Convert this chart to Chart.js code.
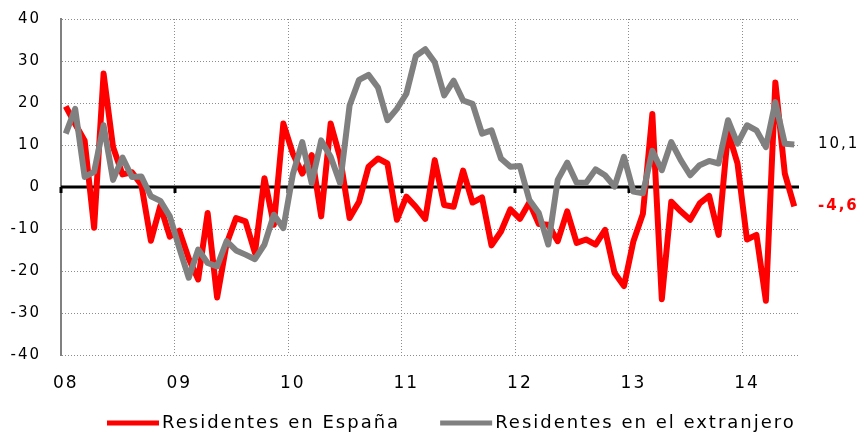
<!DOCTYPE html>
<html>
<head>
<meta charset="utf-8">
<script src="https://cdn.jsdelivr.net/npm/chart.js@4.4.0/dist/chart.umd.min.js"></script>
<style>
html, body { margin: 0; padding: 0; background: #fff; }
#wrap { width: 858px; height: 433px; overflow: hidden; }
</style>
</head>
<body>
<div id="wrap"><canvas id="chart" width="858" height="433"></canvas></div>
<script>
// x axis tick labels (one per year, at January)
var yearLabels = ['08', '09', '10', '11', '12', '13', '14'];
var monthNames = ['ene', 'feb', 'mar', 'abr', 'may', 'jun', 'jul', 'ago', 'sep', 'oct', 'nov', 'dic'];

// monthly series, ene-08 .. jun-14
var residentesEspana = [
	19.2, 15, 11, -9.7, 27, 9.5, 3, 3.5, 0.5, -12.8, -4.5, -11.8,
	-10.4, -17, -22, -6.2, -26.3, -13.5, -7.4, -8.2, -15.7, 2.1, -9, 15.1,
	8, 3.2, 7.6, -7, 15.1, 7, -7.4, -3.5, 4.8, 6.8, 5.6, -7.8,
	-2.3, -4.7, -7.6, 6.4, -4.3, -4.7, 3.9, -3.7, -2.5, -13.9, -10.6, -5.3,
	-7.6, -3.7, -8.8, -9, -12.9, -5.8, -13.3, -12.5, -13.7, -10.2, -20.4, -23.6,
	-12.9, -6.4, 17.4, -26.7, -3.5, -5.8, -7.8, -3.9, -2.1, -11.4, 13.1, 5.6,
	-12.5, -11.4, -27.1, 24.9, 3.2, -4.6
];
var residentesExtranjero = [
	12.7, 18.6, 2.4, 3.6, 14.7, 1.7, 7, 2.4, 2.5, -2.2, -3.3, -7,
	-14.5, -21.6, -14.9, -18.1, -18.9, -12.9, -15.1, -16.1, -17.2, -13.7, -6.6, -9.8,
	3, 10.7, 0.9, 11.1, 7.2, 0.9, 19.4, 25.5, 26.7, 23.7, 15.9, 18.6,
	22.2, 31.2, 32.8, 29.7, 21.8, 25.3, 20.6, 19.8, 12.7, 13.5, 6.8, 4.8,
	5, -3.1, -6.2, -13.7, 1.7, 5.8, 1, 1, 4.2, 2.8, 0.1, 7.2,
	-1.1, -1.5, 8.6, 4, 10.7, 6.4, 2.8, 5.2, 6.2, 5.6, 15.9, 10.3,
	14.7, 13.5, 9.5, 20.2, 10.3, 10.1
];

// last values written at the right of the plot
var lastLabelEspana = '-4,6';
var lastLabelExtranjero = '10,1';

// categories
var categories = [];
for (var y = 0; y < yearLabels.length; y++) {
	for (var m = 0; m < 12; m++) {
		if (categories.length < residentesEspana.length) {
			categories.push(monthNames[m] + '-' + yearLabels[y]);
		}
	}
}

// the original text is drawn rather wide
var SPACING = 2;
var wideText = {
	id: 'wideText',
	beforeUpdate: function(chart) { chart.ctx.letterSpacing = SPACING + 'px'; },
	beforeDraw: function(chart) { chart.ctx.letterSpacing = SPACING + 'px'; }
};

// black zero line with small year marks
var zeroLine = {
	id: 'zeroLine',
	beforeDatasetsDraw: function(chart) {
		var ctx = chart.ctx;
		var xs = chart.scales.x;
		var y0 = chart.scales.y.getPixelForValue(0);
		var half = (xs.getPixelForValue(1) - xs.getPixelForValue(0)) / 2;
		ctx.save();
		ctx.strokeStyle = '#000';
		ctx.lineWidth = 3;
		ctx.beginPath();
		ctx.moveTo(chart.chartArea.left, y0);
		ctx.lineTo(chart.chartArea.right, y0);
		ctx.stroke();
		for (var i = 0; i < categories.length; i += 12) {
			var xp = Math.round(xs.getPixelForValue(i) - half);
			ctx.beginPath();
			ctx.moveTo(xp, y0);
			ctx.lineTo(xp, y0 + 6);
			ctx.stroke();
		}
		ctx.restore();
	}
};

// values at end of lines + legend row at the bottom
var endLabels = {
	id: 'endLabels',
	afterDraw: function(chart) {
		var ctx = chart.ctx;
		var ys = chart.scales.y;
		var x = chart.chartArea.right + 19;
		ctx.save();
		ctx.textBaseline = 'middle';
		ctx.textAlign = 'left';
		ctx.font = '15px "DejaVu Sans"';
		ctx.fillStyle = '#000';
		ctx.fillText(lastLabelExtranjero, x, ys.getPixelForValue(residentesExtranjero[residentesExtranjero.length - 1]));
		ctx.font = 'bold 15px "DejaVu Sans"';
		ctx.fillStyle = '#ff0000';
		ctx.fillText(lastLabelEspana, x, ys.getPixelForValue(residentesEspana[residentesEspana.length - 1]));

		// legend
		var lx = 107, ly = 423;
		ctx.font = '18px "DejaVu Sans"';
		chart.data.datasets.forEach(function(ds) {
			ctx.fillStyle = ds.borderColor;
			ctx.fillRect(lx, ly - 2.5, 52, 5);
			lx += 55;
			ctx.letterSpacing = '0px';
			var w = ctx.measureText(ds.label).width + SPACING * ds.label.length;
			ctx.letterSpacing = SPACING + 'px';
			ctx.fillStyle = '#000';
			ctx.fillText(ds.label, lx, ly);
			lx += w + 40;
		});
		ctx.restore();
	}
};

var ctx = document.getElementById('chart').getContext('2d');
var chart = new Chart(ctx, {
	type: 'line',
	data: {
		labels: categories,
		datasets: [{
			label: 'Residentes en España',
			data: residentesEspana,
			borderColor: '#ff0000',
			borderWidth: 6,
			pointRadius: 0,
			tension: 0,
			borderJoinStyle: 'round',
			order: 1
		}, {
			label: 'Residentes en el extranjero',
			data: residentesExtranjero,
			borderColor: '#808080',
			borderWidth: 6,
			pointRadius: 0,
			tension: 0,
			borderJoinStyle: 'round',
			order: 0
		}]
	},
	options: {
		responsive: false,
		animation: false,
		devicePixelRatio: 1,
		layout: { padding: { top: 19, right: 48, left: 0, bottom: 29 } },
		scales: {
			x: {
				offset: true,
				grid: {
					offset: true,
					drawTicks: false,
					color: function(c) { return c.index % 12 === 0 ? '#8c8c8c' : 'rgba(0,0,0,0)'; },
					lineWidth: 1
				},
				border: { display: false, dash: [1, 2] },
				afterFit: function(s) { s.height = 49; },
				ticks: {
					autoSkip: false,
					maxRotation: 0,
					padding: 18,
					color: '#000',
					font: { family: 'DejaVu Sans', size: 17 },
					callback: function(v, i) { return i % 12 === 0 ? yearLabels[i / 12] : ''; }
				}
			},
			y: {
				min: -40,
				max: 40,
				grid: { drawTicks: false, color: '#8c8c8c', lineWidth: 1 },
				border: { display: true, color: '#808080', width: 2, dash: [1, 2] },
				afterFit: function(s) {
					s.width = 61;
					s.paddingTop = 0;
					s.paddingBottom = 0;
				},
				ticks: {
					stepSize: 10,
					padding: 20,
					color: '#000',
					font: { family: 'DejaVu Sans', size: 15 },
					callback: function(v) { return String(v); }
				}
			},
			// empty axis, the rest of the room for the end labels is layout padding
			yRight: {
				type: 'linear',
				position: 'right',
				grid: { display: false },
				border: { display: false },
				ticks: { display: false },
				afterFit: function(s) { s.width = 11; s.paddingTop = 0; s.paddingBottom = 0; }
			}
		},
		plugins: {
			tooltip: { enabled: false },
			legend: { display: false }
		}
	},
	plugins: [wideText, zeroLine, endLabels]
});
</script>
</body>
</html>
